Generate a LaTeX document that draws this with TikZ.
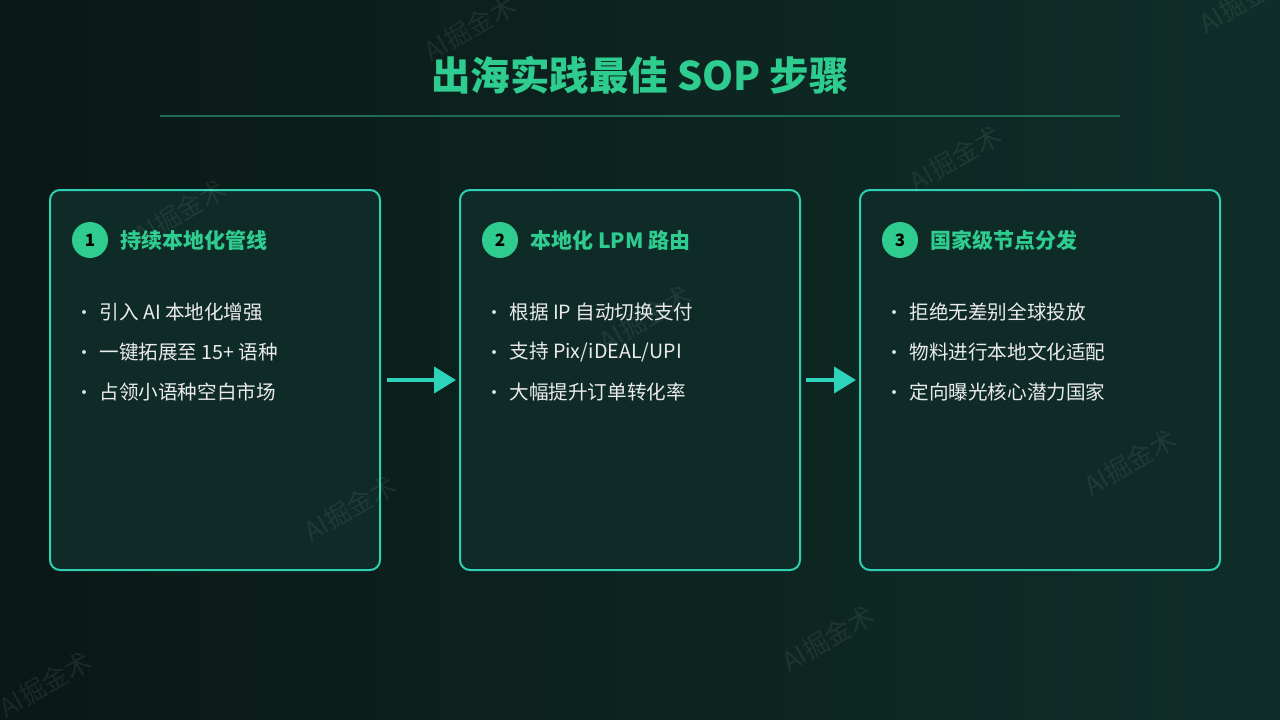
\documentclass[tikz,border=0pt]{standalone}
\usepackage{fontspec}
\setmainfont{Noto Sans CJK SC}
\usetikzlibrary{arrows.meta}
\definecolor{bgL}{HTML}{0A1816}
\definecolor{bgR}{HTML}{0F2E29}
\definecolor{boxfill}{HTML}{0E2B28}
\definecolor{boxline}{HTML}{2FD0B2}
\definecolor{accent}{HTML}{2ECC8F}
\definecolor{arrowc}{HTML}{2DD4BA}
\definecolor{rule}{HTML}{1F6B55}
\tikzset{
  card/.style={draw=boxline, line width=2pt, fill=boxfill, rounded corners=10pt},
  num/.style={circle, fill=accent, minimum size=36pt, inner sep=0pt, font=\fontsize{17}{17}\selectfont\bfseries, text=black},
  head/.style={anchor=west, text=accent, font=\fontsize{21}{21}\selectfont\bfseries},
  item/.style={anchor=west, text=white!92!black, font=\fontsize{19.6}{19.6}\selectfont},
  dot/.style={circle, fill=white!85!black, inner sep=0pt, minimum size=4pt},
  flow/.style={draw=arrowc, line width=4pt, -{Triangle[length=22pt,width=26pt]}},
  wm/.style={text=white, opacity=0.07, rotate=30, font=\fontsize{26}{26}\selectfont}
}
\begin{document}
\begin{tikzpicture}[x=1pt,y=-1pt]
\shade[left color=bgL, right color=bgR] (0,0) rectangle (1280,720);
\useasboundingbox (0,0) rectangle (1280,720);
\node[text=accent, font=\fontsize{39.5}{39.5}\selectfont\bfseries] (title) at (640,75) {出海实践最佳 SOP 步骤};
\draw[rule, line width=1.5pt] (160,116) coordinate (r1) -- (1120,116) coordinate (r2);
% cards
\draw[card] (50,190) rectangle (380,570);
\draw[card] (460,190) rectangle (800,570);
\draw[card] (860,190) rectangle (1220,570);
% card 1
\node[num] (n1) at (90,240) {1};
\node[head] (h1) at (117,240) {持续本地化管线};
\foreach \t/\y/\i in {{引入 AI 本地化增强}/312/a, {一键拓展至 15+ 语种}/352/b, {占领小语种空白市场}/392/c}{
  \node[dot] (d1\i) at (84,\y) {};
  \node[item] (t1\i) at (96,\y) {\t};
}
% card 2
\node[num] (n2) at (500,240) {2};
\node[head] (h2) at (527,240) {本地化 LPM 路由};
\foreach \t/\y/\i in {{根据 IP 自动切换支付}/312/a, {支持 Pix/iDEAL/UPI}/352/b, {大幅提升订单转化率}/392/c}{
  \node[dot] (d2\i) at (494,\y) {};
  \node[item] (t2\i) at (506,\y) {\t};
}
% card 3
\node[num] (n3) at (900,240) {3};
\node[head] (h3) at (927,240) {国家级节点分发};
\foreach \t/\y/\i in {{拒绝无差别全球投放}/312/a, {物料进行本地文化适配}/352/b, {定向曝光核心潜力国家}/392/c}{
  \node[dot] (d3\i) at (894,\y) {};
  \node[item] (t3\i) at (906,\y) {\t};
}
% arrows
\coordinate (a1s) at (387,380); \coordinate (a1e) at (456,380);
\coordinate (a2s) at (806,380); \coordinate (a2e) at (856,380);
\draw[flow] (a1s) -- (a1e);
\draw[flow] (a2s) -- (a2e);
% watermarks
\foreach \x/\y [count=\k] in {470/28, 180/212, 350/508, 955/158, 645/318, 1130/462, 828/638, 45/684, 1245/0}{
  \node[wm] (w\k) at (\x,\y) {AI掘金术};
}
\end{tikzpicture}
\end{document}
